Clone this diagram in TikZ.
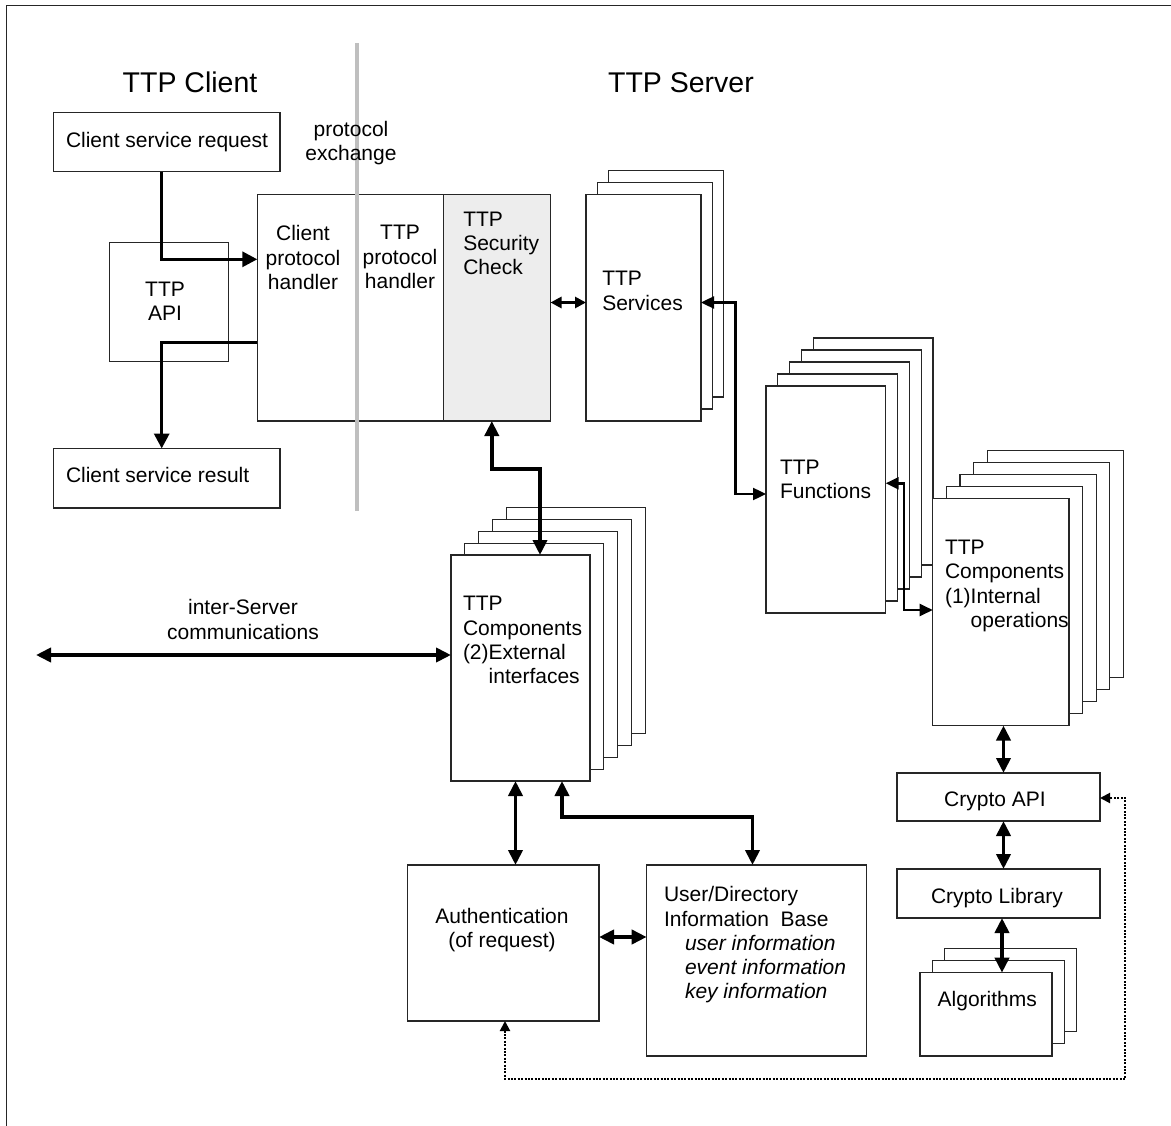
\documentclass[tikz,border=0pt]{standalone}
\usepackage{fontspec}
\setmainfont{Liberation Sans}
\usetikzlibrary{arrows.meta,fit,calc}

% A stack of equal rectangles: #1 name of the front box, (#2,#3)-(#4,#5) its corners,
% #6 number of boxes behind it, (#7,#8) shift of each box behind (right, up)
\newcommand\layeredbox[8]{%
  \foreach \k in {#6,...,1}{%
    \pgfmathsetmacro\lbAx{#2+\k*#7}\pgfmathsetmacro\lbAy{#3-\k*#8}%
    \pgfmathsetmacro\lbBx{#4+\k*#7}\pgfmathsetmacro\lbBy{#5-\k*#8}%
    \node[box, fit={(\lbAx,\lbAy) (\lbBx,\lbBy)}] (#1-\k) {};
  }%
  \node[box, fit={(#2,#3) (#4,#5)}] (#1) {};
}

\begin{document}
\begin{tikzpicture}[x=1pt,y=-1pt,
  box/.style={draw=black!85, line width=1.2pt, fill=white, inner sep=0pt, outer sep=0pt},
  txt/.style={font=\fontsize{21}{24.3}\selectfont, inner sep=0pt, outer sep=0pt},
  title/.style={font=\fontsize{28.5}{34}\selectfont, inner sep=0pt},
  conn/.style={line width=3.8pt, >={Triangle[length=15pt,width=14pt]}},
  clientconn/.style={line width=3.2pt, >={Triangle[length=15pt,width=15pt]}},
  shortconn/.style={line width=2.8pt, >={Triangle[length=11pt,width=11pt]}},
  thinconn/.style={line width=2.4pt, >={Triangle[length=13pt,width=12pt]}},
  dotconn/.style={line width=2pt, dash pattern=on 2pt off 1.4pt, >={Triangle[length=10pt,width=10pt]}},
  divider/.style={draw=black!25, line width=4pt},
  frame/.style={draw=black!85, line width=1.6pt}
]
\useasboundingbox (0,0) rectangle (1171,1126);

% page frame (top and left edges)
\coordinate (fr1) at (1171,5.5);
\coordinate (fr2) at (6.5,5.5);
\coordinate (fr3) at (6.5,1126);
\draw[frame] (fr1) -- (fr2) -- (fr3);

% client side boxes
\node[box, fit={(53.3,112.3) (280,171.7)}] (req) {};
\node[box, fit={(109.3,242.3) (228.7,361.7)}] (api) {};
\node[box, fit={(53.3,448.5) (280,508)}] (res) {};

% protocol handlers and security check
\node[box, fit={(257.3,194.3) (443.5,421)}] (main) {};
\node[box, fill=black!7, fit={(443.5,194.3) (550.5,421)}] (sec) {};

% server stacks
\layeredbox{serv}{586}{194.3}{701}{421}{2}{11.3}{12}
\layeredbox{func}{766}{386}{885.7}{613}{4}{11.8}{12}
\layeredbox{comp1}{932.7}{498.7}{1069}{725.5}{4}{13.6}{12}
\layeredbox{comp2}{451}{555}{590}{781}{4}{13.8}{11.8}

% lower boxes
\node[box, fit={(407.7,865) (599,1021)}] (auth) {};
\node[box, fit={(646.7,865) (866.7,1056)}] (udib) {};
\node[box, fit={(897,773) (1100,821)}] (capi) {};
\node[box, fit={(897,869) (1100,918)}] (clib) {};
\layeredbox{algo}{920}{972.7}{1052}{1056}{2}{12.3}{12.3}

% client / server divider
\coordinate (dvtop) at (356.5,43.3);
\coordinate (dvbot) at (356.5,511);
\draw[divider] (dvtop) -- (dvbot);

% helper lines for the connectors
\coordinate (xcli) at (161.7,0);
\coordinate (yreq) at (0,259.3);
\coordinate (yret) at (0,342.7);
\coordinate (yss) at (0,302.5);
\coordinate (xsa) at (491.8,0);
\coordinate (xsb) at (540,0);
\coordinate (ysc) at (0,469);
\coordinate (xsf) at (735.5,0);
\coordinate (yfn) at (0,494);
\coordinate (yfc1) at (0,483.3);
\coordinate (xfc) at (904,0);
\coordinate (yfc2) at (0,610);
\coordinate (far) at (36,655);
\coordinate (xca) at (515.5,0);
\coordinate (xcu1) at (562,0);
\coordinate (xcu2) at (752.5,0);
\coordinate (ycu) at (0,817);
\coordinate (yau) at (0,937);
\coordinate (xcr) at (1003.5,0);
\coordinate (xal) at (1002,0);
\coordinate (xdl) at (505,0);
\coordinate (xdr) at (1125,0);
\coordinate (ydb) at (0,1079);
\coordinate (ydc) at (0,798);

% connectors
\draw[clientconn,->] (req.south -| xcli) |- (main.west |- yreq);
\draw[clientconn,->] (main.west |- yret) -| (res.north -| xcli);
\draw[shortconn,<->] (sec.east |- yss) -- (serv.west |- yss);
\draw[conn,<->] (sec.south -| xsa) |- (xsb |- ysc) -- (comp2.north -| xsb);
\draw[thinconn,<->] (serv.east |- yss) -| (xsf |- yfn) -- (func.west |- yfn);
\draw[thinconn,<->] (func.east |- yfc1) -| (xfc |- yfc2) -- (comp1.west |- yfc2);
\draw[conn,<->] (far) -- (comp2.west |- far);
\draw[conn,<->] (comp2.south -| xca) -- (auth.north -| xca);
\draw[conn,<->] (comp2.south -| xcu1) |- (xcu2 |- ycu) -- (udib.north -| xcu2);
\draw[conn,<->] (auth.east |- yau) -- (udib.west |- yau);
\draw[conn,<->] (comp1.south -| xcr) -- (capi.north -| xcr);
\draw[conn,<->] (capi.south -| xcr) -- (clib.north -| xcr);
\draw[conn,<->] (clib.south -| xal) -- (algo.north -| xal);
\draw[dotconn,<->] (auth.south -| xdl) |- (xdr |- ydb) |- (capi.east |- ydc);

% texts
\node[title, anchor=base] (tclient) at (190,92.3) {TTP Client};
\node[title, anchor=base] (tserver) at (681,92.3) {TTP Server};
\node[txt, align=center, anchor=north] (tpx) at (351,121) {protocol\\exchange};
\node[txt, anchor=base west] (treq) at (66,147.3) {Client service request};
\node[txt, anchor=base west] (tres) at (66,482.5) {Client service result};
\node[txt, align=center, anchor=north] (tapi) at (165,282) {TTP\\API};
\node[txt, align=center, anchor=north] (tcph) at (303,225.5) {Client\\protocol\\handler};
\node[txt, align=center, anchor=north] (ttph) at (400,225.5) {TTP\\protocol\\handler};
\node[txt, align=left, anchor=north west] (tsec) at (463.3,211.7) {TTP\\Security\\Check};
\node[txt, align=left, anchor=north west] (tserv) at (602.3,271.5) {TTP\\Services};
\node[txt, align=left, anchor=north west] (tfunc) at (780,460) {TTP\\Functions};
\node[txt, align=left, anchor=north west] (tcomp1) at (945,540) {TTP\\Components\\(1)Internal\\\phantom{(1)}operations};
\node[txt, align=left, anchor=north west] (tcomp2) at (463,596.5) {TTP\\Components\\(2)External\\\phantom{(2)}interfaces};
\node[txt, align=center, anchor=north] (tisc) at (243,599.5) {inter-Server\\communications};
\node[txt, align=center, anchor=north] (tauth) at (502,908) {Authentication\\(of request)};
\node[txt, align=left, anchor=north west] (tudib) at (664,886.5) {User/Directory\\Information\ \ Base\\\hspace*{21pt}\textit{user information}\\\hspace*{21pt}\textit{event information}\\\hspace*{21pt}\textit{key information}};
\node[txt, anchor=base] (tcapi) at (995,806) {Crypto API};
\node[txt, anchor=base] (tclib) at (997,903) {Crypto Library};
\node[txt, anchor=base] (talgo) at (987.3,1006.7) {Algorithms};
\end{tikzpicture}
\end{document}
